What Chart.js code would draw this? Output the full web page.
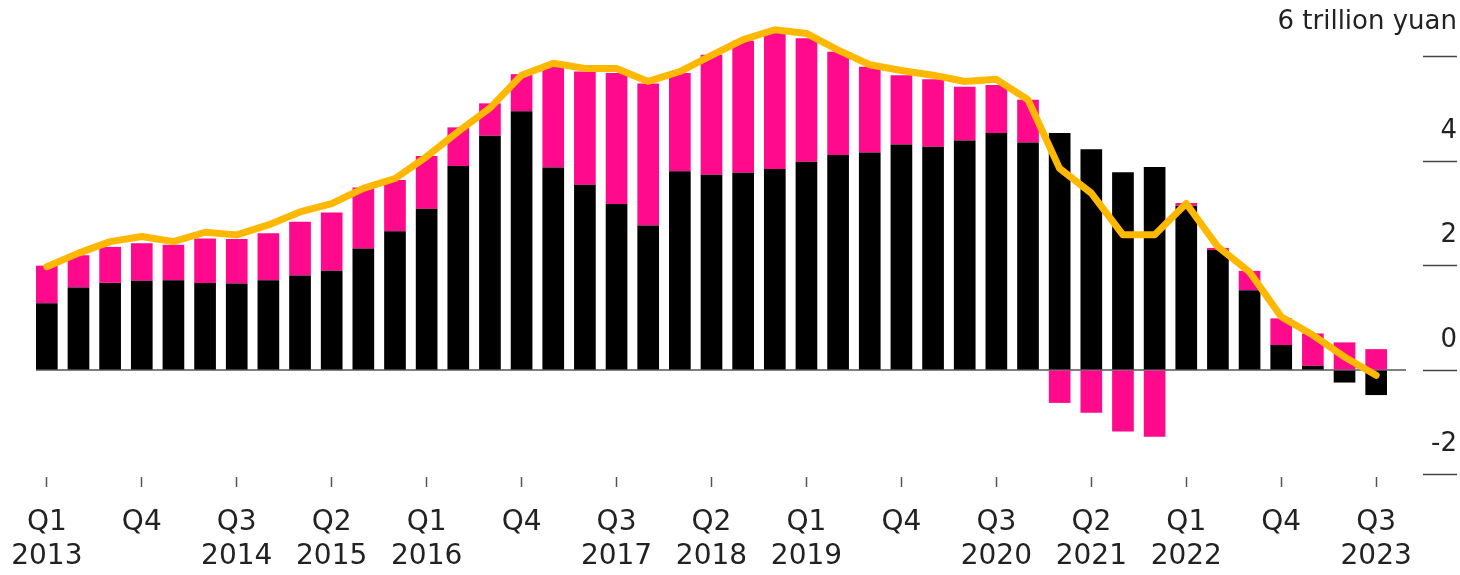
<!DOCTYPE html>
<html>
<head>
<meta charset="utf-8">
<script src="https://cdn.jsdelivr.net/npm/chart.js@4"></script>
<style>
  html, body { margin: 0; padding: 0; background: #ffffff; }
  canvas { display: block; }
</style>
</head>
<body>
<canvas id="c" width="1460" height="575"></canvas>
<script>
// ---- Data (trillion yuan) ----
const quarters = [
  'Q1 2013','Q2 2013','Q3 2013','Q4 2013',
  'Q1 2014','Q2 2014','Q3 2014','Q4 2014',
  'Q1 2015','Q2 2015','Q3 2015','Q4 2015',
  'Q1 2016','Q2 2016','Q3 2016','Q4 2016',
  'Q1 2017','Q2 2017','Q3 2017','Q4 2017',
  'Q1 2018','Q2 2018','Q3 2018','Q4 2018',
  'Q1 2019','Q2 2019','Q3 2019','Q4 2019',
  'Q1 2020','Q2 2020','Q3 2020','Q4 2020',
  'Q1 2021','Q2 2021','Q3 2021','Q4 2021',
  'Q1 2022','Q2 2022','Q3 2022','Q4 2022',
  'Q1 2023','Q2 2023','Q3 2023'
];

const blackSeries = [
  1.28, 1.58, 1.67, 1.71, 1.72, 1.67, 1.66, 1.72, 1.81, 1.90,
  2.33, 2.66, 3.09, 3.91, 4.49, 4.96, 3.88, 3.55, 3.18, 2.77,
  3.81, 3.74, 3.78, 3.85, 3.99, 4.12, 4.17, 4.32, 4.28, 4.40,
  4.54, 4.36, 4.54, 4.23, 3.79, 3.89, 3.15, 2.30, 1.53, 0.48,
  0.08, -0.24, -0.48
];

const pinkSeries = [
  0.72, 0.62, 0.69, 0.72, 0.68, 0.85, 0.85, 0.90, 1.03, 1.12,
  1.17, 0.98, 1.01, 0.74, 0.62, 0.71, 1.93, 2.17, 2.51, 2.72,
  1.88, 2.30, 2.53, 2.62, 2.37, 1.98, 1.64, 1.33, 1.29, 1.03,
  0.92, 0.82, -0.63, -0.82, -1.18, -1.28, 0.05, 0.04, 0.37, 0.51,
  0.62, 0.53, 0.40
];

const lineSeries = [
  1.98, 2.24, 2.46, 2.56, 2.46, 2.64, 2.59, 2.78, 3.03, 3.19,
  3.48, 3.67, 4.09, 4.57, 5.02, 5.65, 5.88, 5.78, 5.78, 5.53,
  5.72, 6.03, 6.33, 6.52, 6.45, 6.13, 5.85, 5.74, 5.65, 5.53,
  5.57, 5.18, 3.86, 3.39, 2.59, 2.59, 3.19, 2.36, 1.88, 1.02,
  0.67, 0.25, -0.10
];

// x tick labels shown every third quarter
const xTickLabels = [
  ['Q1', '2013'], ['Q4'], ['Q3', '2014'], ['Q2', '2015'], ['Q1', '2016'],
  ['Q4'], ['Q3', '2017'], ['Q2', '2018'], ['Q1', '2019'], ['Q4'],
  ['Q3', '2020'], ['Q2', '2021'], ['Q1', '2022'], ['Q4'], ['Q3', '2023']
];

const yTickValues = [-2, 0, 2, 4, 6];
const yTickLabels = ['-2', '0', '2', '4', '6 trillion yuan'];

// ---- Zero reference line ----
const zeroLine = {
  id: 'zeroLine',
  beforeDatasetsDraw(chart) {
    const { ctx, chartArea, scales } = chart;
    const yy = scales.y.getPixelForValue(0);
    ctx.save();
    ctx.strokeStyle = '#555555';
    ctx.lineWidth = 1.5;
    ctx.beginPath();
    ctx.moveTo(chartArea.left + 5, yy);
    ctx.lineTo(chartArea.right + 14, yy);
    ctx.stroke();
    ctx.restore();
  }
};

new Chart(document.getElementById('c'), {
  type: 'bar',
  data: {
    labels: quarters,
    datasets: [
      {
        type: 'line',
        label: 'Total',
        data: lineSeries,
        borderColor: '#FFB800',
        borderWidth: 7,
        pointRadius: 0,
        tension: 0,
        borderJoinStyle: 'round',
        borderCapStyle: 'round',
        fill: false,
        stack: 'line',
        order: 0,
        clip: false
      },
      {
        label: 'Black',
        data: blackSeries,
        backgroundColor: '#000000',
        stack: 'bars',
        order: 1,
        barPercentage: 0.685,
        categoryPercentage: 1
      },
      {
        label: 'Pink',
        data: pinkSeries,
        backgroundColor: '#FF0A8C',
        stack: 'bars',
        order: 1,
        barPercentage: 0.685,
        categoryPercentage: 1
      }
    ]
  },
  options: {
    responsive: false,
    animation: false,
    devicePixelRatio: 1,
    layout: { padding: { left: 31, right: 3, top: 23, bottom: 0 } },
    plugins: {
      legend: { display: false },
      tooltip: { enabled: false }
    },
    scales: {
      x: {
        stacked: true,
        offset: true,
        border: { display: false },
        grid: {
          offset: false,
          drawOnChartArea: false,
          drawTicks: true,
          tickLength: 10,
          tickWidth: 1.5,
          tickColor: '#555555'
        },
        ticks: {
          autoSkip: false,
          maxRotation: 0,
          minRotation: 0,
          padding: 19,
          color: '#222222',
          font: { family: 'DejaVu Sans', size: 28, lineHeight: 1.2 },
          callback: (v, i) => (i % 3 === 0 ? xTickLabels[i / 3] : null)
        },
        afterFit: (s) => {
          s.height = 98;
          s.paddingLeft = 0;
          s.paddingRight = 0;
        }
      },
      y: {
        position: 'right',
        stacked: true,
        min: -2.05,
        max: 6.65,
        border: { display: false },
        grid: {
          drawOnChartArea: false,
          drawTicks: true,
          tickLength: 65,
          tickWidth: 1.5,
          tickColor: '#444444',
          tickBorderDash: [0, 31, 34, 300]
        },
        ticks: {
          stepSize: 2,
          includeBounds: false,
          mirror: true,
          padding: 65,
          crossAlign: 'near',
          labelOffset: -30,
          color: '#222222',
          font: (c) => ({
            family: 'DejaVu Sans',
            size: 26,
            lineHeight: (c.tick && c.tick.value === 6) ? '10px' : 1.2
          }),
          callback: (v) => {
            const k = yTickValues.indexOf(v);
            if (k < 0) return null;
            return v === 6 ? [yTickLabels[k], ''] : yTickLabels[k];
          }
        },
        afterFit: (s) => {
          s.width = 65;
          s.paddingTop = 0;
          s.paddingBottom = 0;
        }
      }
    }
  },
  plugins: [zeroLine]
});
</script>
</body>
</html>
